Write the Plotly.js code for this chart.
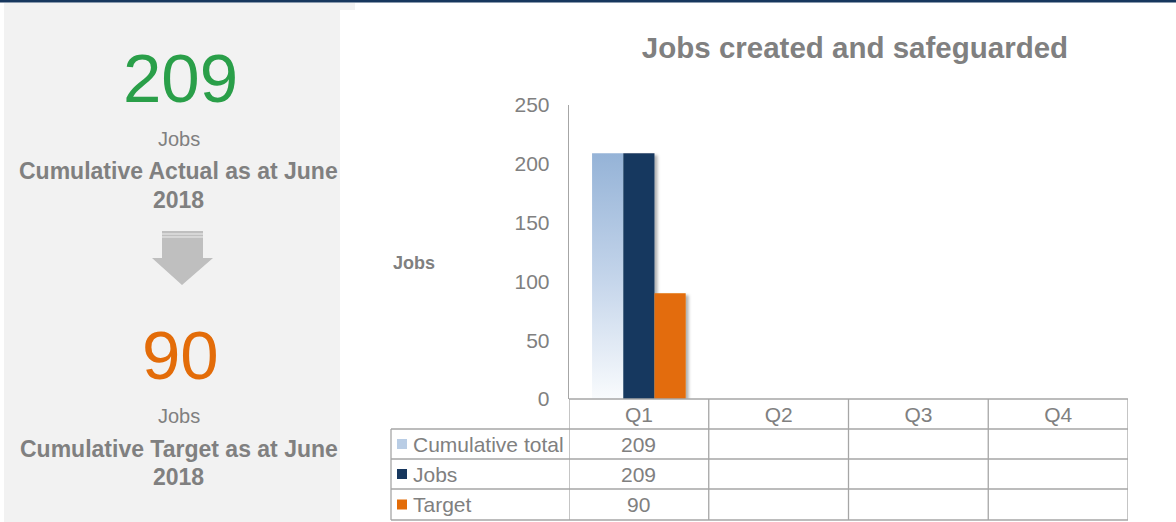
<!DOCTYPE html>
<html>
<head>
<meta charset="utf-8">
<script src="https://cdn.plot.ly/plotly-3.0.1.min.js"></script>
<style>
  html, body { margin: 0; padding: 0; background: #ffffff; }
  #chart { width: 1176px; height: 522px; }
</style>
</head>
<body>
<div id="chart"></div>
<script>
// ---------------- data ----------------
const categories = ['Q1', 'Q2', 'Q3', 'Q4'];
const seriesNames = ['Cumulative total', 'Jobs', 'Target'];
const cumulativeTotal = [209, null, null, null];
const jobs = [209, null, null, null];
const target = [90, null, null, null];
const yTicks = [0, 50, 100, 150, 200, 250];
const actualToDate = 209;
const targetToDate = 90;
const chartTitle = 'Jobs created and safeguarded';
const yTitle = 'Jobs';
const unitLabel = 'Jobs';
const actualLabel = ['Cumulative Actual as at June', '2018'];
const targetLabel = ['Cumulative Target as at June', '2018'];

// ---------------- styling ----------------
const W = 1176, H = 522;
const L = 569, R = 1128, T = 105, B = 399;
const PW = R - L, PH = B - T;
const px2x = px => (px - L) / PW;
const py2y = py => (B - py) / PH;

const GREY = '#808080';
const LINE = '#a6a6a6';
const NAVY = '#17375e';
const ORANGE = '#e36c09';
const GREEN = '#2a9f49';
const LIGHTBLUE = '#95b3d7';
const FONT = 'Liberation Sans, Arial, sans-serif';

const seriesData = [cumulativeTotal, jobs, target];
const seriesColors = [LIGHTBLUE, NAVY, ORANGE];

const traces = seriesData.map((vals, i) => ({
  type: 'bar',
  name: seriesNames[i],
  x: categories,
  y: vals,
  marker: { color: seriesColors[i], line: { width: 0 } },
  showlegend: false,
  hoverinfo: 'skip'
}));

const shapes = [];
const annotations = [];

// top navy rule
shapes.push({ type: 'rect', xref: 'paper', yref: 'paper', layer: 'below',
  x0: px2x(0), x1: px2x(W), y0: py2y(2.5), y1: py2y(0), fillcolor: NAVY, line: { width: 0 } });
// grey KPI panel
shapes.push({ type: 'rect', xref: 'paper', yref: 'paper', layer: 'below',
  x0: px2x(4), x1: px2x(355), y0: py2y(10), y1: py2y(3), fillcolor: '#f2f2f2', line: { width: 0 } });
shapes.push({ type: 'rect', xref: 'paper', yref: 'paper', layer: 'below',
  x0: px2x(4), x1: px2x(340), y0: py2y(522), y1: py2y(3), fillcolor: '#f2f2f2', line: { width: 0 } });

// down arrow
const ax = [[162, 231], [203, 231], [203, 258], [213, 258], [182, 285], [152, 258], [162, 258]];
shapes.push({ type: 'path', xref: 'paper', yref: 'paper', layer: 'below',
  path: 'M ' + ax.map(p => px2x(p[0]) + ',' + py2y(p[1])).join(' L ') + ' Z',
  fillcolor: '#bfbfbf', line: { width: 0 } });
[234, 237].forEach(py => shapes.push({ type: 'line', xref: 'paper', yref: 'paper', layer: 'below',
  x0: px2x(162), x1: px2x(203), y0: py2y(py), y1: py2y(py), line: { color: '#eeeeee', width: 1 } }));

// KPI texts
function ann(text, xpx, ypx, size, color, bold, anchor) {
  annotations.push({ xref: 'paper', yref: 'paper', x: px2x(xpx), y: py2y(ypx),
    xanchor: anchor || 'center', yanchor: 'middle', showarrow: false,
    text: bold ? '<b>' + text + '</b>' : text,
    font: { family: FONT, size: size, color: color } });
}
ann(String(actualToDate), 180, 79, 69, GREEN);
ann(unitLabel, 179, 139, 20, GREY);
ann(actualLabel[0], 178.5, 171, 23, GREY, true);
ann(actualLabel[1], 178.5, 200, 23, GREY, true);
ann(String(targetToDate), 180, 355, 69, ORANGE);
ann(unitLabel, 179, 416, 20, GREY);
ann(targetLabel[0], 178.5, 449, 23, GREY, true);
ann(targetLabel[1], 178.5, 477, 23, GREY, true);

// y axis title (horizontal)
ann(yTitle, 414, 263, 18, GREY, true);

// data table
const rowTops = [399, 429, 459, 489, 520];
// horizontal lines
shapes.push({ type: 'line', xref: 'paper', yref: 'paper', x0: px2x(L), x1: px2x(R),
  y0: py2y(rowTops[0]), y1: py2y(rowTops[0]), line: { color: LINE, width: 1.3 } });
for (let r = 1; r < rowTops.length; r++) {
  shapes.push({ type: 'line', xref: 'paper', yref: 'paper', x0: px2x(391), x1: px2x(R),
    y0: py2y(rowTops[r]), y1: py2y(rowTops[r]), line: { color: LINE, width: 1.3 } });
}
// vertical lines
shapes.push({ type: 'line', xref: 'paper', yref: 'paper', x0: px2x(391), x1: px2x(391),
  y0: py2y(rowTops[1]), y1: py2y(rowTops[4]), line: { color: LINE, width: 1.3 } });
for (let c = 0; c <= categories.length; c++) {
  shapes.push({ type: 'line', xref: 'x', yref: 'paper', x0: c - 0.5, x1: c - 0.5,
    y0: py2y(rowTops[0]), y1: py2y(rowTops[4]), line: { color: LINE, width: 1.3 } });
}
// series rows
seriesNames.forEach((name, i) => {
  const yc = (rowTops[i + 1] + rowTops[i + 2]) / 2;
  shapes.push({ type: 'rect', xref: 'paper', yref: 'paper',
    x0: px2x(397), x1: px2x(407), y0: py2y(yc + 5), y1: py2y(yc - 5),
    fillcolor: i === 0 ? '#b9cde5' : seriesColors[i], line: { width: 0 } });
  ann(name, 411, yc, 21, GREY, false, 'left');
  seriesData[i].forEach((v, c) => {
    annotations.push({ xref: 'x', yref: 'paper', x: categories[c], y: py2y(yc),
      xanchor: 'center', yanchor: 'middle', showarrow: false,
      text: v == null ? '' : String(v),
      font: { family: FONT, size: 21, color: GREY } });
  });
});

const layout = {
  width: W, height: H,
  margin: { l: L, r: W - R, t: T, b: H - B, pad: 0 },
  paper_bgcolor: '#ffffff',
  plot_bgcolor: 'rgba(0,0,0,0)',
  font: { family: FONT, color: GREY },
  title: { text: '<b>' + chartTitle + '</b>', xref: 'paper', x: px2x(855), xanchor: 'center',
    yref: 'container', y: 1 - 48 / H, yanchor: 'middle',
    font: { family: FONT, size: 29.5, color: GREY } },
  barmode: 'group', bargap: 0.33, bargroupgap: 0,
  hovermode: false,
  xaxis: { type: 'category', range: [-0.5, 3.5], showline: false, showgrid: false, zeroline: false,
    ticks: '', tickfont: { family: FONT, size: 21, color: GREY }, ticklabelstandoff: 1, fixedrange: true },
  yaxis: { range: [0, 250], tickvals: yTicks, showgrid: false, zeroline: false,
    showline: true, linecolor: LINE, linewidth: 1.3, ticks: '', ticklabelstandoff: 14,
    tickfont: { family: FONT, size: 21, color: GREY }, fixedrange: true },
  shapes: shapes,
  annotations: annotations
};

Plotly.newPlot('chart', traces, layout, { staticPlot: true, displayModeBar: false }).then(gd => {
  const svg = gd.querySelector('svg.main-svg');
  const NS = 'http://www.w3.org/2000/svg';
  let defs = svg.querySelector('defs');
  if (!defs) { defs = document.createElementNS(NS, 'defs'); svg.insertBefore(defs, svg.firstChild); }
  const grad = document.createElementNS(NS, 'linearGradient');
  grad.setAttribute('id', 'cumGrad');
  grad.setAttribute('x1', '0'); grad.setAttribute('y1', '0');
  grad.setAttribute('x2', '0'); grad.setAttribute('y2', '1');
  [['0', '#95b3d7'], ['0.5', '#c3d4ea'], ['1', '#f9fbfd']].forEach(([o, c]) => {
    const s = document.createElementNS(NS, 'stop');
    s.setAttribute('offset', o); s.setAttribute('stop-color', c);
    grad.appendChild(s);
  });
  defs.appendChild(grad);
  const filt = document.createElementNS(NS, 'filter');
  filt.setAttribute('id', 'barShadow');
  filt.setAttribute('x', '-20%'); filt.setAttribute('y', '-10%');
  filt.setAttribute('width', '150%'); filt.setAttribute('height', '130%');
  const ds = document.createElementNS(NS, 'feDropShadow');
  ds.setAttribute('dx', '3'); ds.setAttribute('dy', '2');
  ds.setAttribute('stdDeviation', '1.5');
  ds.setAttribute('flood-color', '#000'); ds.setAttribute('flood-opacity', '0.3');
  filt.appendChild(ds);
  defs.appendChild(filt);
  const groups = gd.querySelectorAll('.barlayer .trace.bars');
  groups.forEach((g, i) => {
    g.querySelectorAll('path').forEach(p => {
      if (i === 0) p.style.fill = 'url(#cumGrad)';
      else p.setAttribute('filter', 'url(#barShadow)');
    });
  });
});
</script>
</body>
</html>
